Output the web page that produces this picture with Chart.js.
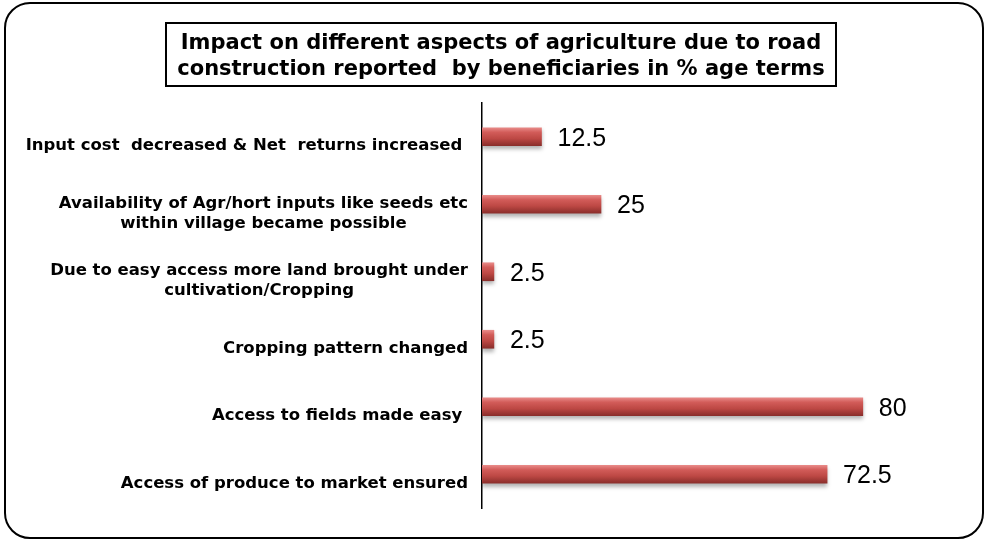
<!DOCTYPE html>
<html>
<head>
    <meta charset="UTF-8">
    <title>Impact on agriculture</title>
    <script src="https://cdn.jsdelivr.net/npm/chart.js"></script>
    <style>
        body { margin: 0; background: #fff; }
        #wrap { position: relative; width: 990px; height: 543px; }
        #frame {
            position: absolute; left: 4px; top: 2px; width: 980px; height: 537px;
            box-sizing: border-box; border: 2px solid #000; border-radius: 26px;
        }
        #title {
            position: absolute; left: 165px; top: 22px; width: 672px; height: 65px;
            box-sizing: border-box; border: 2px solid #000;
            display: flex; align-items: center; justify-content: center; text-align: center;
            font: bold 21px "DejaVu Sans", Verdana, sans-serif; line-height: 26px; color: #000;
            white-space: nowrap;
        }
        canvas { position: absolute; left: 0; top: 0; }
    </style>
</head>
<body>
    <div id="wrap">
        <div id="frame"></div>
        <canvas id="chart" width="990" height="543"></canvas>
        <div id="title">Impact on different aspects of agriculture due to road<br>construction reported&nbsp; by beneficiaries in % age terms</div>
    </div>
    <script>
        // categories, top to bottom
        var categories = [
            ['Input cost  decreased & Net  returns increased '],
            ['Availability of Agr/hort inputs like seeds etc', 'within village became possible'],
            ['Due to easy access more land brought under', 'cultivation/Cropping'],
            ['Cropping pattern changed'],
            ['Access to fields made easy '],
            ['Access of produce to market ensured']
        ];
        var percentValues = [12.5, 25, 2.5, 2.5, 80, 72.5];
        var valueLabels = ['12.5', '25', '2.5', '2.5', '80', '72.5'];

        // bar fill: shaded red like the original 3D bars
        function barFill(c) {
            var chart = c.chart;
            if (!chart.chartArea || !chart.scales.y) return '#c0504d';
            var y = chart.scales.y.getPixelForValue(c.dataIndex);
            var g = chart.ctx.createLinearGradient(0, y - 9, 0, y + 9);
            g.addColorStop(0, '#e88a88');
            g.addColorStop(0.25, '#d25c59');
            g.addColorStop(0.6, '#bd4844');
            g.addColorStop(1, '#8a2e2b');
            return g;
        }

        var labelPlugin = {
            id: 'sideLabels',
            beforeDatasetsDraw: function (chart) {
                var ctx = chart.ctx;
                ctx.save();
                ctx.shadowColor = 'rgba(0,0,0,0.3)';
                ctx.shadowBlur = 4;
                ctx.shadowOffsetY = 3;
            },
            afterDatasetsDraw: function (chart) {
                var ctx = chart.ctx;
                ctx.restore();
                var y = chart.scales.y, x = chart.scales.x;
                ctx.save();
                ctx.fillStyle = '#000';
                ctx.textBaseline = 'middle';
                // category labels, centred block to the left of the axis
                ctx.font = 'bold 16.5px "DejaVu Sans", Verdana, sans-serif';
                categories.forEach(function (lines, i) {
                    var cy = y.getPixelForValue(i) + 9;
                    var w = 0;
                    lines.forEach(function (l) { w = Math.max(w, ctx.measureText(l).width); });
                    var cx = 468 - w / 2;
                    ctx.textAlign = 'center';
                    lines.forEach(function (l, k) {
                        ctx.fillText(l, cx, cy + (k - (lines.length - 1) / 2) * 20);
                    });
                });
                // value labels at the bar ends
                ctx.font = '25px "Liberation Sans", Arial, sans-serif';
                ctx.textAlign = 'left';
                percentValues.forEach(function (v, i) {
                    ctx.fillText(valueLabels[i], x.getPixelForValue(v) + 16, y.getPixelForValue(i) + 2);
                });
                ctx.restore();
            }
        };

        var chart = new Chart(document.getElementById('chart').getContext('2d'), {
            type: 'bar',
            data: {
                labels: categories,
                datasets: [{
                    data: percentValues,
                    backgroundColor: barFill,
                    borderWidth: 0,
                    barThickness: 18
                }]
            },
            options: {
                indexAxis: 'y',
                responsive: false,
                animation: false,
                layout: { padding: { left: 482, right: 32, top: 103, bottom: 35 } },
                plugins: { legend: { display: false }, tooltip: { enabled: false } },
                scales: {
                    x: { display: false, min: 0, max: 100 },
                    y: {
                        ticks: { display: false },
                        grid: { display: true, drawOnChartArea: false, drawTicks: false },
                        border: { display: true, color: '#000', width: 1.5 }
                    }
                }
            },
            plugins: [labelPlugin]
        });
    </script>
</body>
</html>
